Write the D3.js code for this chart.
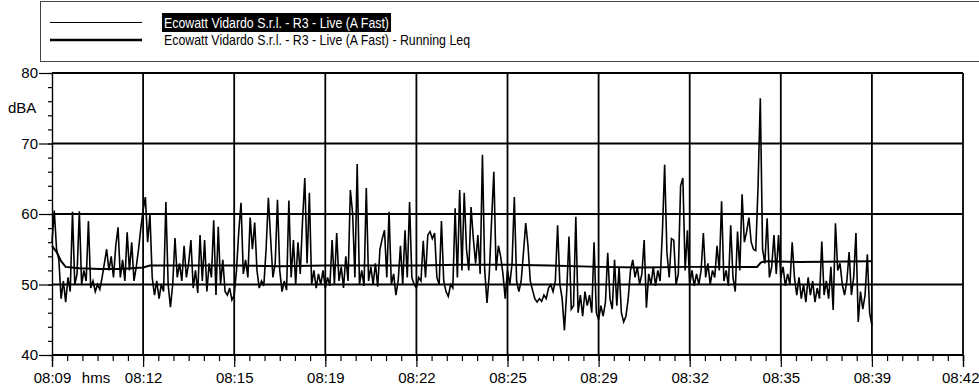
<!DOCTYPE html>
<html>
<head>
<meta charset="utf-8">
<script src="https://cdn.jsdelivr.net/npm/d3@7"></script>
<style>
  html, body { margin: 0; padding: 0; background: #fff; }
  svg { display: block; font-family: 'Liberation Sans', Arial, sans-serif; }
</style>
</head>
<body>
<svg id="chart" width="979" height="388"></svg>
<script>
// Live (A Fast) level, one reading every 5 s from 08:09:00
var liveDb = [
  56, 60.5, 55, 53.5, 48, 50.5, 47.5, 51, 49, 60.3,
  50, 51.5, 60.4, 50, 52, 50.5, 59, 49.5, 50.5, 49,
  50, 49.3, 51, 53, 55, 52, 54, 51, 55.5, 58.1,
  51, 53.5, 50.5, 57.4, 52, 56, 50.5, 52.5, 55, 58,
  60.5, 62.4, 56, 60, 51, 48.5, 50.5, 48, 50, 49,
  61.7, 50, 46.8, 50, 56.6, 51, 53, 50.5, 55.5, 51,
  53, 56.3, 49.5, 52, 48.8, 57, 50.5, 56.3, 49, 53,
  51, 59.1, 48.5, 58.2, 50, 53.5, 49, 48.5, 49.5, 47.8,
  48.5, 52, 57.5, 61.6, 51.5, 53.5, 51, 59.5, 55, 58.8,
  52, 49.5, 50.5, 49.8, 55, 62.3, 56.5, 51, 53, 62,
  52, 49, 50.5, 49.2, 61.9, 51, 56.3, 50, 56, 51.5,
  59, 65.1, 53, 63, 50, 52, 49.5, 51.5, 50, 52,
  49.5, 51, 49.8, 56.3, 50, 57.3, 50.5, 52.5, 49.5, 54,
  50.5, 63.4, 60.1, 51, 67.1, 50, 52, 49.8, 63.7, 50.5,
  52.5, 50, 53, 49.7, 55, 56.5, 57.7, 51, 60.3, 50,
  51.5, 48.5, 50.5, 55.5, 50, 57.7, 51, 61.7, 51, 50,
  49.5, 51, 50.5, 56.2, 51, 57, 57.5, 56.5, 57.3, 51,
  50, 59, 50.5, 49, 48.3, 50, 49.5, 60.8, 51, 63.4,
  52, 63, 55, 52, 61, 56.5, 53, 57, 51.5, 68.4,
  52, 47.4, 51.5, 59, 66, 52, 55.5, 54, 51.5, 48,
  52, 50, 53, 62.4, 50.5, 49, 50.5, 54.5, 58.7, 55.5,
  50.5, 49.2, 48, 47.5, 48, 47.6, 48.5, 48, 49.5, 50,
  49, 50.5, 58.4, 50, 48, 43.5, 49, 56.8, 46.5, 47,
  59.6, 46, 48.5, 45.5, 49, 47, 48.5, 46, 56, 46,
  45, 47, 45.5, 47.5, 54.5, 48, 46.5, 53.5, 47, 52.5,
  46, 44.7, 45.5, 48, 52, 53.5, 51, 52.5, 50, 51.5,
  56.3, 46.7, 51.5, 50, 52.5, 49.8, 52, 50.5, 57.3, 67,
  54.5, 51, 56.5, 56.3, 50, 51.5, 64, 65.1, 52, 57.7,
  50, 52, 49.8, 51.5, 50, 52, 57.3, 51, 53, 50,
  52, 51, 55.5, 52, 61.8, 50.5, 52, 49.8, 58.4, 51,
  49, 57.5, 52, 62.8, 56, 57.5, 59.5, 56, 55, 54.8,
  63.8, 76.4, 55, 53, 59.4, 51, 52.5, 57, 51.5, 57,
  51, 52.5, 49.8, 51.5, 50, 56, 51, 48.5, 51, 48,
  50, 47.5, 51, 48.5, 50.5, 47.5, 49.5, 48, 56.1, 48.5,
  50.5, 48, 52.5, 46.4, 58.7, 52, 53, 50, 48.5, 50.5,
  54.6, 48.5, 51, 57.3, 44.7, 49, 46.5, 48.5, 54.3, 46,
  44.2
];
var liveStep = 5; // seconds

// Running Leq (seconds after 08:09:00, dBA)
var leqSec = [0, 11, 20, 30, 60, 105, 150, 200, 215, 303, 400, 500, 600, 700, 800, 895, 1000, 1093, 1200, 1290, 1400, 1510, 1548, 1556, 1565, 1640, 1800];
var leqDb = [55.5, 54.5, 53.3, 52.5, 52.3, 52.2, 52.2, 52.4, 52.7, 52.7, 52.7, 52.6, 52.7, 52.7, 52.7, 52.8, 52.8, 52.7, 52.5, 52.4, 52.5, 52.5, 52.5, 53.1, 53.3, 53.2, 53.3];

var yTicks = [40, 50, 60, 70, 80];
var xTickLabels = ['08:09', '08:12', '08:15', '08:19', '08:22', '08:25', '08:29', '08:32', '08:35', '08:39', '08:42'];
var legendLabels = ['Ecowatt Vidardo S.r.l. - R3 - Live (A Fast)', 'Ecowatt Vidardo S.r.l. - R3 - Live (A Fast) - Running Leq'];

var t0 = new Date(2000, 0, 1, 8, 9, 0).getTime();
var tickStep = 200; // seconds between labelled ticks

// plot edges (window.top is taken, so no plain "top")
var plotLeft = 52, plotRight = 963, plotTop = 73, plotBottom = 355;

var x = d3.scaleTime()
  .domain([new Date(t0), new Date(t0 + tickStep * 10 * 1000)])
  .range([plotLeft, plotRight]);

var y = d3.scaleLinear()
  .domain([40, 80])
  .range([plotBottom, plotTop]);

var svg = d3.select('#chart');

// legend box
svg.append('rect')
  .attr('x', 40.5).attr('y', 1.5)
  .attr('width', 960).attr('height', 60)
  .attr('fill', '#fff')
  .attr('stroke', '#444')
  .attr('stroke-width', 1);

var legend = svg.append('g');
legend.append('line')
  .attr('x1', 50).attr('x2', 142).attr('y1', 22.5).attr('y2', 22.5)
  .attr('stroke', '#000').attr('stroke-width', 1);
legend.append('rect')
  .attr('x', 162).attr('y', 13).attr('width', 229).attr('height', 19)
  .attr('fill', '#000');
legend.append('text')
  .attr('x', 164).attr('y', 27.5)
  .attr('fill', '#fff')
  .style('font-size', '15px')
  .attr('textLength', 225)
  .attr('lengthAdjust', 'spacingAndGlyphs')
  .text(legendLabels[0]);
legend.append('line')
  .attr('x1', 50).attr('x2', 142).attr('y1', 40).attr('y2', 40)
  .attr('stroke', '#000').attr('stroke-width', 2.5);
legend.append('text')
  .attr('x', 164).attr('y', 44.5)
  .attr('fill', '#000')
  .style('font-size', '15px')
  .attr('textLength', 306)
  .attr('lengthAdjust', 'spacingAndGlyphs')
  .text(legendLabels[1]);

// grid
var majorTimes = d3.range(11).map(function (i) { return new Date(t0 + i * tickStep * 1000) });
var minorTimes = d3.range(61).map(function (i) { return new Date(t0 + i * tickStep / 6 * 1000) });

var grid = svg.append('g').attr('stroke', '#000').attr('stroke-width', 1.8);
grid.selectAll('.h')
  .data(yTicks)
  .enter().append('line')
  .attr('x1', plotLeft).attr('x2', plotRight)
  .attr('y1', function (d) { return y(d) })
  .attr('y2', function (d) { return y(d) });
grid.selectAll('.v')
  .data(majorTimes.slice(1))
  .enter().append('line')
  .attr('x1', function (d) { return x(d) })
  .attr('x2', function (d) { return x(d) })
  .attr('y1', plotTop).attr('y2', plotBottom);

// series
var liveLine = d3.line()
  .x(function (d, i) { return x(new Date(t0 + i * liveStep * 1000)) })
  .y(function (d) { return y(d) });

svg.append('path')
  .datum(liveDb)
  .attr('d', liveLine)
  .attr('fill', 'none')
  .attr('stroke', '#000')
  .attr('stroke-width', 1.6);

var leqLine = d3.line()
  .x(function (d, i) { return x(new Date(t0 + leqSec[i] * 1000)) })
  .y(function (d) { return y(d) });

svg.append('path')
  .datum(leqDb)
  .attr('d', leqLine)
  .attr('fill', 'none')
  .attr('stroke', '#000')
  .attr('stroke-width', 2);

// axes
var yAxis = d3.axisLeft(y).tickValues(yTicks).tickSize(13).tickPadding(1);
var yMinor = d3.axisLeft(y).tickValues(d3.range(40, 81, 2)).tickSize(4).tickFormat('');

svg.append('g').attr('transform', 'translate(' + plotLeft + ',0)').call(yAxis);
svg.append('g').attr('transform', 'translate(' + plotLeft + ',0)').call(yMinor);

var xAxis = d3.axisBottom(x).tickValues(majorTimes).tickSize(12).tickPadding(5)
  .tickFormat(function (d, i) { return xTickLabels[i] });
var xMinor = d3.axisBottom(x).tickValues(minorTimes).tickSize(6).tickFormat('');

var gx = svg.append('g').attr('transform', 'translate(0,' + plotBottom + ')').call(xAxis);
svg.append('g').attr('transform', 'translate(0,' + plotBottom + ')').call(xMinor);

svg.selectAll('.domain').attr('stroke', '#000').attr('stroke-width', 1.2);
svg.selectAll('.tick line').attr('stroke', '#000').attr('stroke-width', 1.2);
svg.selectAll('.tick text')
  .attr('fill', '#000')
  .style('font-size', '15px')
  .style('font-family', "'Liberation Sans', Arial, sans-serif");

// last label sits against the page edge
gx.selectAll('.tick text')
  .filter(function (d, i) { return i === xTickLabels.length - 1 })
  .attr('text-anchor', 'end')
  .attr('x', 16);

svg.append('text')
  .attr('x', 8).attr('y', 113)
  .style('font-size', '15px')
  .text('dBA');

svg.append('text')
  .attr('x', 96).attr('y', 383)
  .attr('text-anchor', 'middle')
  .style('font-size', '15px')
  .text('hms');
</script>
</body>
</html>
